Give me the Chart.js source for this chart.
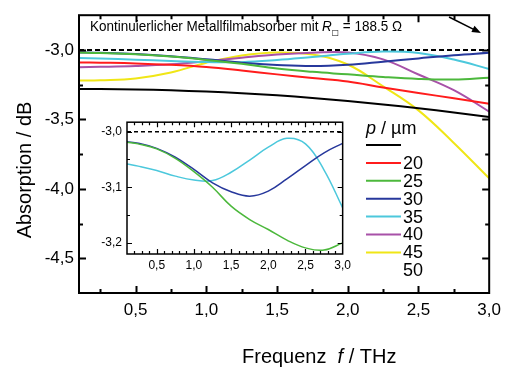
<!DOCTYPE html>
<html>
<head>
<meta charset="utf-8">
<script src="https://cdn.jsdelivr.net/npm/chart.js@4/dist/chart.umd.min.js"></script>
<style>
  body { margin: 0; background: #fff; }
  #wrap { position: relative; width: 508px; height: 369px; }
  canvas { position: absolute; }
  #main { left: 0; top: 0; }
  #inset { left: 80px; top: 110px; }
</style>
</head>
<body>
<div id="wrap">
  <canvas id="main" width="508" height="369"></canvas>
  <canvas id="inset" width="275" height="170"></canvas>
</div>
<script>
// frequency grid (THz) and absorption (dB) per period p
const freq = [0.1, 0.25, 0.5, 0.75, 1.0, 1.25, 1.5, 1.75, 2.0, 2.25, 2.5, 2.75, 3.0];
const p50 = [-3.281, -3.282, -3.285, -3.291, -3.300, -3.312, -3.327, -3.346, -3.368, -3.393, -3.420, -3.450, -3.483];
const p20 = [-3.090, -3.092, -3.097, -3.107, -3.123, -3.148, -3.176, -3.202, -3.227, -3.270, -3.310, -3.348, -3.387];
const p25 = [-3.019, -3.022, -3.031, -3.048, -3.072, -3.100, -3.134, -3.158, -3.176, -3.195, -3.209, -3.213, -3.200];
const p30 = [-3.018, -3.021, -3.030, -3.046, -3.068, -3.092, -3.108, -3.116, -3.107, -3.085, -3.061, -3.038, -3.021];
const p35 = [-3.058, -3.062, -3.070, -3.080, -3.087, -3.088, -3.073, -3.051, -3.028, -3.012, -3.022, -3.069, -3.137];
const p40 = [-3.124, -3.122, -3.116, -3.104, -3.082, -3.056, -3.033, -3.020, -3.018, -3.068, -3.177, -3.290, -3.444];
const p45 = [-3.220, -3.218, -3.205, -3.162, -3.092, -3.040, -3.018, -3.033, -3.105, -3.262, -3.435, -3.670, -3.925];
const limit = -3.0; // continuous metal film

const lineColors = ['#000000', '#ff1c1c', '#4cb83c', '#27389c', '#4cc8dc', '#a851a8', '#f0e616'];
const legendLabels = ['', '20', '25', '30', '35', '40', '45', '50'];

const xMajor = [0.5, 1.0, 1.5, 2.0, 2.5, 3.0];
const yMajor = [-4.5, -4.0, -3.5, -3.0];
const insetYMajor = [-3.2, -3.1, -3.0];

const FONT = 'Liberation Sans, Arial, sans-serif';
Chart.defaults.font.family = FONT;
Chart.defaults.color = '#000';

const pts = vals => freq.map((f, i) => ({ x: f, y: vals[i] }));
const comma = v => Number(v).toFixed(1).replace('.', ',');

function curve(vals, color, width) {
  return {
    data: pts(vals), borderColor: color, borderWidth: width,
    pointRadius: 0, tension: 0.4, fill: false
  };
}
function dashed(width, dash) {
  return {
    data: [{ x: freq[0], y: limit }, { x: freq[freq.length - 1], y: limit }],
    borderColor: '#000', borderWidth: width, borderDash: dash, pointRadius: 0
  };
}

function range(a, b, step) {
  const out = [];
  for (let v = a; v <= b + 1e-9; v += step) out.push(+v.toFixed(4));
  return out;
}

// box + inward ticks on all four sides
const frame = {
  id: 'frame',
  afterDraw(chart, args, o) {
    const { ctx, chartArea: a, scales: { x, y } } = chart;
    ctx.save();
    ctx.strokeStyle = '#000';
    ctx.lineWidth = o.lw;
    ctx.strokeRect(a.left, a.top, a.right - a.left, a.bottom - a.top);
    ctx.beginPath();
    const xt = (vals, len) => vals.forEach(v => {
      const px = Math.round(x.getPixelForValue(v)) + 0.5;
      if (px <= a.left + 1 || px >= a.right - 1) return;
      ctx.moveTo(px, a.bottom); ctx.lineTo(px, a.bottom - len);
      ctx.moveTo(px, a.top); ctx.lineTo(px, a.top + len);
    });
    const yt = (vals, len) => vals.forEach(v => {
      const py = Math.round(y.getPixelForValue(v)) + 0.5;
      if (py <= a.top + 1 || py >= a.bottom - 1) return;
      ctx.moveTo(a.left, py); ctx.lineTo(a.left + len, py);
      ctx.moveTo(a.right, py); ctx.lineTo(a.right - len, py);
    });
    xt(o.xMajor, o.major); xt(o.xMinor, o.minor);
    yt(o.yMajor, o.major); yt(o.yMinor, o.minor);
    ctx.lineWidth = o.tw;
    ctx.stroke();
    ctx.restore();
  }
};

function drawRuns(ctx, runs, x, y) {
  for (const r of runs) {
    ctx.font = r.font;
    ctx.fillText(r.t, x, y + (r.dy || 0));
    x += ctx.measureText(r.t).width;
  }
  return x;
}
function runsWidth(ctx, runs) {
  let w = 0;
  for (const r of runs) { ctx.font = r.font; w += ctx.measureText(r.t).width; }
  return w;
}

// titles, note, arrow and the legend of the main plot
const decor = {
  id: 'decor',
  afterDraw(chart) {
    const { ctx } = chart;
    ctx.save();
    ctx.fillStyle = '#000';
    ctx.textBaseline = 'alphabetic';
    ctx.textAlign = 'left';

    // note in the upper left
    const note = [
      { t: 'Kontinuierlicher Metallfilmabsorber mit ', font: '14px ' + FONT },
      { t: 'R', font: 'italic 14px ' + FONT },
      { t: '\u25A1', font: '8px DejaVu Sans', dy: 4 },
      { t: ' = 188.5 \u03A9', font: '14px ' + FONT }
    ];
    ctx.save();
    ctx.translate(90, 31);
    ctx.scale(312 / runsWidth(ctx, note), 1);
    drawRuns(ctx, note, 0, 0);
    ctx.restore();

    // arrow
    const x0 = 449, y0 = 17, x1 = 481, y1 = 33;
    const ang = Math.atan2(y1 - y0, x1 - x0);
    ctx.strokeStyle = '#000';
    ctx.lineWidth = 1.5;
    ctx.beginPath();
    ctx.moveTo(x0, y0);
    ctx.lineTo(x1 - 6 * Math.cos(ang), y1 - 6 * Math.sin(ang));
    ctx.stroke();
    ctx.beginPath();
    ctx.moveTo(x1, y1);
    ctx.lineTo(x1 - 9 * Math.cos(ang) + 3.5 * Math.sin(ang), y1 - 9 * Math.sin(ang) - 3.5 * Math.cos(ang));
    ctx.lineTo(x1 - 9 * Math.cos(ang) - 3.5 * Math.sin(ang), y1 - 9 * Math.sin(ang) + 3.5 * Math.cos(ang));
    ctx.closePath();
    ctx.fill();

    // axis titles
    drawRuns(ctx, [
      { t: 'Frequenz  ', font: '20px ' + FONT },
      { t: 'f', font: 'italic 20px ' + FONT },
      { t: ' / THz', font: '20px ' + FONT }
    ], 242, 363);
    ctx.save();
    ctx.translate(31, 170);
    ctx.rotate(-Math.PI / 2);
    ctx.textAlign = 'center';
    ctx.font = '20px ' + FONT;
    ctx.fillText('Absorption / dB', 0, 0);
    ctx.restore();

    // legend
    drawRuns(ctx, [
      { t: 'p', font: 'italic 18px ' + FONT },
      { t: ' / \u00B5m', font: '18px ' + FONT }
    ], 366, 134);
    const rowY = r => 145 + r * 17.9;
    ctx.lineWidth = 2;
    lineColors.forEach((c, r) => {
      ctx.strokeStyle = c;
      ctx.beginPath();
      ctx.moveTo(366, rowY(r)); ctx.lineTo(401, rowY(r));
      ctx.stroke();
    });
    ctx.font = '18px ' + FONT;
    ctx.textBaseline = 'middle';
    legendLabels.forEach((t, r) => { if (t) ctx.fillText(t, 403, rowY(r) + 1); });
    ctx.restore();
  }
};

const series = [p50, p20, p25, p30, p35, p40, p45];
const noGrid = { display: false, drawTicks: false };

new Chart(document.getElementById('main'), {
  type: 'line',
  data: {
    datasets: series.map((s, i) => curve(s, lineColors[i], 2)).concat([dashed(2, [5, 3])])
  },
  options: {
    responsive: false, animation: false,
    layout: { padding: { top: 11, right: 13, left: 0, bottom: 0 } },
    plugins: {
      legend: { display: false }, tooltip: { enabled: false },
      frame: {
        lw: 2, tw: 2, major: 7, minor: 4,
        xMajor: xMajor, xMinor: range(0.25, 2.75, 0.5),
        yMajor: yMajor, yMinor: [-4.25, -3.75, -3.25]
      }
    },
    scales: {
      x: {
        type: 'linear', min: 0.1, max: 3.0,
        grid: noGrid, border: { display: false },
        afterBuildTicks: s => { s.ticks = xMajor.map(v => ({ value: v })); },
        afterFit: s => { s.height = 76; },
        ticks: { font: { size: 17 }, padding: 7, autoSkip: false, maxRotation: 0, callback: comma }
      },
      y: {
        min: -4.75, max: -2.75,
        grid: noGrid, border: { display: false },
        afterBuildTicks: s => { s.ticks = yMajor.map(v => ({ value: v })); },
        afterFit: s => { s.width = 79; },
        ticks: { font: { size: 17 }, padding: 5, callback: comma }
      }
    }
  },
  plugins: [frame, decor]
});

// inset: close-up of p = 25, 30, 35 µm
new Chart(document.getElementById('inset'), {
  type: 'line',
  data: {
    datasets: [
      curve(p25, lineColors[2], 1.5),
      curve(p30, lineColors[3], 1.5),
      curve(p35, lineColors[4], 1.5),
      dashed(1.5, [4, 3])
    ]
  },
  options: {
    responsive: false, animation: false,
    layout: { padding: { top: 9, right: 9, left: 0, bottom: 0 } },
    plugins: {
      legend: { display: false }, tooltip: { enabled: false },
      frame: {
        lw: 1.5, tw: 1.2, major: 5, minor: 3,
        xMajor: xMajor, xMinor: range(0.2, 2.9, 0.1).filter(v => Math.abs(v * 2 - Math.round(v * 2)) > 1e-6),
        yMajor: insetYMajor, yMinor: [-3.15, -3.05]
      }
    },
    scales: {
      x: {
        type: 'linear', min: 0.1, max: 3.0,
        grid: noGrid, border: { display: false },
        afterBuildTicks: s => { s.ticks = xMajor.map(v => ({ value: v })); },
        afterFit: s => { s.height = 26; },
        ticks: { font: { size: 12 }, padding: 4, autoSkip: false, maxRotation: 0, callback: comma }
      },
      y: {
        min: -3.22, max: -2.983,
        grid: noGrid, border: { display: false },
        afterBuildTicks: s => { s.ticks = insetYMajor.map(v => ({ value: v })); },
        afterFit: s => { s.width = 47; },
        ticks: { font: { size: 12 }, padding: 5, callback: comma }
      }
    }
  },
  plugins: [frame]
});
</script>
</body>
</html>
